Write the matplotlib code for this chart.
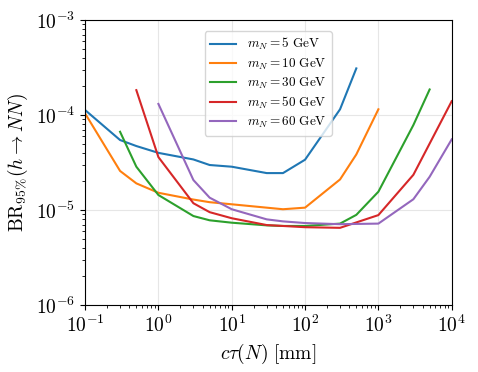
import numpy as np
import matplotlib
matplotlib.use("Agg")
import matplotlib.pyplot as plt

plt.rcParams['font.family'] = 'serif'
plt.rcParams['font.serif'] = ['cmr10', 'DejaVu Serif']
plt.rcParams['mathtext.fontset'] = 'cm'
plt.rcParams['axes.formatter.use_mathtext'] = True

# ctau [mm] and BR limits for each mass
ctau_5 = [0.1, 0.3, 0.5, 1, 3, 5, 10, 30, 50, 100, 300, 500]
br_5 = [1.13e-4, 5.46e-5, 4.72e-5, 4.0e-5, 3.41e-5, 2.98e-5, 2.86e-5, 2.45e-5, 2.45e-5, 3.39e-5, 1.15e-4, 3.1e-4]

ctau_10 = [0.1, 0.3, 0.5, 1, 3, 5, 10, 50, 100, 300, 500, 1000]
br_10 = [1.04e-4, 2.58e-5, 1.91e-5, 1.52e-5, 1.29e-5, 1.21e-5, 1.15e-5, 1.02e-5, 1.06e-5, 2.1e-5, 3.85e-5, 1.15e-4]

ctau_30 = [0.3, 0.5, 1, 3, 5, 10, 30, 50, 100, 300, 500, 1000, 3000, 5000]
br_30 = [6.67e-5, 2.86e-5, 1.44e-5, 8.65e-6, 7.8e-6, 7.36e-6, 6.9e-6, 6.8e-6, 6.8e-6, 7.2e-6, 8.9e-6, 1.56e-5, 7.85e-5, 1.86e-4]

ctau_50 = [0.5, 1, 3, 5, 10, 30, 100, 300, 1000, 3000, 10000]
br_50 = [1.83e-4, 3.61e-5, 1.18e-5, 9.5e-6, 8.2e-6, 6.95e-6, 6.6e-6, 6.5e-6, 8.85e-6, 2.35e-5, 1.4e-4]

ctau_60 = [1, 3, 5, 10, 30, 50, 100, 300, 1000, 3000, 5000, 10000]
br_60 = [1.31e-4, 2.07e-5, 1.35e-5, 1.02e-5, 7.98e-6, 7.6e-6, 7.3e-6, 7.1e-6, 7.2e-6, 1.3e-5, 2.24e-5, 5.55e-5]

masses = [5, 10, 30, 50, 60]
curves = [(ctau_5, br_5), (ctau_10, br_10), (ctau_30, br_30), (ctau_50, br_50), (ctau_60, br_60)]

fig = plt.figure(figsize=(4.78, 3.72), dpi=100)
ax = fig.add_axes([0.178, 0.18, 0.767, 0.766])

for m, (x, y) in zip(masses, curves):
    ax.plot(x, y, lw=1.5, label=r'$m_N = %d\ \mathrm{GeV}$' % m)

ax.set_xscale('log')
ax.set_yscale('log')
ax.set_xlim(0.1, 1e4)
ax.set_ylim(1e-6, 1e-3)
ax.grid(True, which='major', color='#e6e6e6', lw=0.8)
ax.set_axisbelow(True)
ax.tick_params(labelsize=14)
ax.set_xlabel(r'$c\tau(N)\ [\mathrm{mm}]$', fontsize=14)
ax.set_ylabel(r'$\mathrm{BR}_{95\%}(h\to NN)$', fontsize=14)
ax.legend(loc='upper center', fontsize=9.5, labelspacing=0.3, handlelength=2.0,
          bbox_to_anchor=(0.5, 0.985))

plt.savefig("out.png", dpi=100)
